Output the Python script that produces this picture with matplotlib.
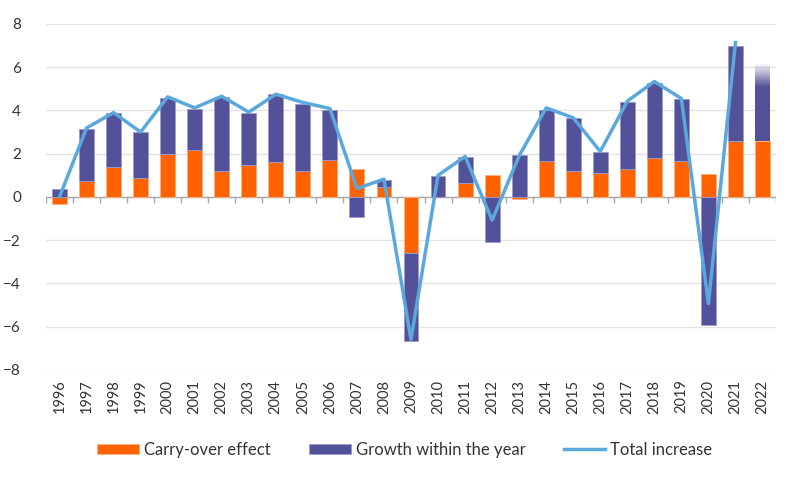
import numpy as np
import matplotlib.pyplot as plt
from matplotlib.transforms import blended_transform_factory

years = [str(y) for y in range(1996, 2023)]
carry_over = [-0.35, 0.73, 1.39, 0.88, 2.00, 2.15, 1.19, 1.47, 1.62, 1.19, 1.70, 1.31, 0.45,
              -2.59, 0.0, 0.62, 1.02, -0.09, 1.68, 1.22, 1.11, 1.27, 1.81, 1.68, 1.06, 2.58, 2.58]
growth = [0.35, 2.43, 2.50, 2.11, 2.58, 1.92, 3.42, 2.40, 3.12, 3.12, 2.34, -0.94, 0.32,
          -4.09, 0.97, 1.22, -2.08, 1.96, 2.36, 2.41, 0.96, 3.11, 3.44, 2.83, -5.91, 4.42, 3.59]
total = [0.0, 3.19, 3.90, 3.00, 4.63, 4.12, 4.66, 3.92, 4.75, 4.37, 4.09, 0.39, 0.82,
         -6.60, 1.00, 1.87, -1.08, 1.90, 4.12, 3.66, 2.10, 4.43, 5.34, 4.55, -4.94, 7.14, np.nan]

orange = '#ff6200'
purple = '#525199'
blue = '#5ba8dc'

plt.rcParams['font.family'] = ['Lato', 'DejaVu Sans']

fig = plt.figure(figsize=(8, 4.8), dpi=100)
ax = fig.add_axes([0.0575, 0.2296, 0.9125, 0.7204])

x = np.arange(len(years))
carry = np.array(carry_over)
grow = np.array(growth)
# stack growth on carry-over when same sign, otherwise from zero
base = np.where(np.sign(carry) == np.sign(grow), carry, 0.0)

cbars = ax.bar(x, carry, width=0.55, color=orange, edgecolor='#ffb080', linewidth=0.6, zorder=2,
               label='Carry-over effect')
gbars = ax.bar(x, grow, bottom=base, width=0.55, color=purple, edgecolor='#9c9bc8',
               linewidth=0.6, zorder=2, label='Growth within the year')
line, = ax.plot(x, total, color=blue, lw=2.5, zorder=3, label='Total increase')

# fade out the top of the last (forecast) bar
last = gbars.patches[-1]
last.set_facecolor('none')
last.set_edgecolor('none')
n = 200
rgba = np.zeros((n, 1, 4))
rgba[:, 0, :3] = [0x52 / 255, 0x51 / 255, 0x99 / 255]
frac = np.linspace(0, 1, n)
rgba[:, 0, 3] = np.clip((1 - frac) / 0.3, 0, 1)
x0 = last.get_x()
y0 = last.get_y()
im = ax.imshow(rgba, extent=[x0, x0 + last.get_width(), y0, y0 + last.get_height()],
               origin='lower', aspect='auto', zorder=2, interpolation='bilinear')
im.set_clip_path(last)

ax.set_xlim(-0.5, len(years) - 0.5)
ax.set_ylim(-8, 8)
ax.set_yticks(np.arange(-8, 9, 2))
ax.yaxis.grid(True, color='#e3e3e3', lw=1)
ax.set_axisbelow(True)
ax.tick_params(axis='y', length=0, pad=18, labelsize=11, labelcolor='#333333')

for s in ['top', 'right', 'left', 'bottom']:
    ax.spines[s].set_visible(False)

ax.axhline(0, color='#a8a8a8', lw=1, zorder=1.5)
trans = blended_transform_factory(ax.transData, ax.transAxes)
zero_ax = 8 / 16
bounds = np.arange(len(years) + 1) - 0.5
ax.vlines(bounds, zero_ax - 0.018, zero_ax, transform=trans, color='#a8a8a8', lw=1, zorder=1.5)

ax.set_xticks(x)
ax.set_xticklabels(years, rotation=90)
ax.tick_params(axis='x', length=0, pad=7, labelsize=10.5, labelcolor='#333333')

fig.legend(handles=[cbars, gbars, line], loc='lower center', bbox_to_anchor=(0.506, 0.015),
           ncol=3, frameon=False, fontsize=12, handlelength=2.5, handleheight=0.6,
           columnspacing=2.3, handletextpad=0.3, labelcolor='#333333')

fig.savefig('out.png', dpi=100)
